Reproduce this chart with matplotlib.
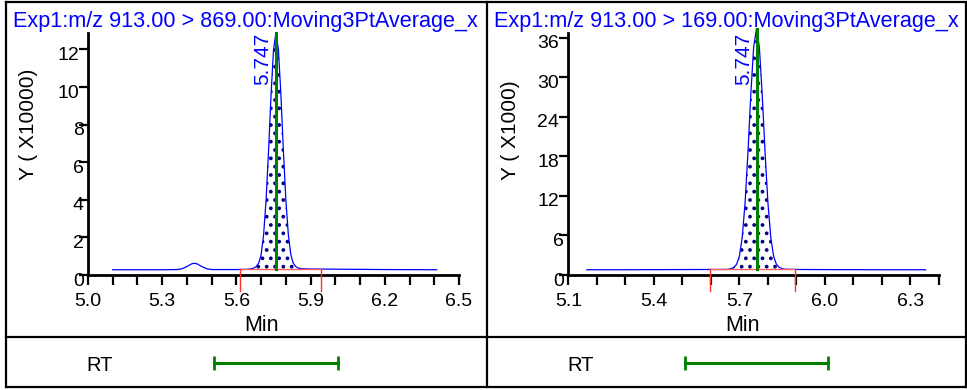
import matplotlib
matplotlib.use("Agg")
import matplotlib.pyplot as plt
import numpy as np
from matplotlib.lines import Line2D
from matplotlib.transforms import ScaledTranslation

# ---- data ----
left_title = "Exp1:m/z 913.00 > 869.00:Moving3PtAverage_x"
left_ylabel = "Y ( X10000)"
left_time = [5.10, 5.20, 5.30, 5.36, 5.38, 5.40, 5.42, 5.43, 5.44, 5.46, 5.48, 5.50,
             5.60, 5.64, 5.66, 5.67, 5.68, 5.69, 5.70, 5.71, 5.72, 5.73, 5.74, 5.75,
             5.76, 5.77, 5.78, 5.79, 5.80, 5.81, 5.82, 5.83, 5.84, 5.85, 5.86, 5.90,
             6.00, 6.20, 6.41]
left_inten = [0.28, 0.28, 0.28, 0.29, 0.33, 0.45, 0.60, 0.62, 0.60, 0.45, 0.33, 0.29,
              0.29, 0.30, 0.33, 0.37, 0.45, 0.62, 1.09, 2.14, 3.98, 6.60, 9.57, 11.97,
              12.90, 11.97, 9.57, 6.60, 3.98, 2.14, 1.09, 0.62, 0.45, 0.37, 0.34, 0.32,
              0.31, 0.29, 0.28]
left_rt_label = "5.747"
left_integration = [5.615, 5.942]
left_baseline = 0.30
left_xlim = [5.0, 6.5]
left_ylim = [0, 12.9]
left_xticks = [5.0, 5.3, 5.6, 5.9, 6.2, 6.5]
left_yticks = [0, 2, 4, 6, 8, 10, 12]

right_title = "Exp1:m/z 913.00 > 169.00:Moving3PtAverage_x"
right_ylabel = "Y ( X1000)"
right_time = [5.165, 5.30, 5.45, 5.60, 5.64, 5.66, 5.67, 5.68, 5.69, 5.70, 5.71, 5.72,
              5.73, 5.74, 5.75, 5.76, 5.77, 5.78, 5.79, 5.80, 5.81, 5.82, 5.83, 5.84,
              5.85, 5.86, 5.90, 6.00, 6.20, 6.353]
right_inten = [0.80, 0.80, 0.82, 0.84, 0.84, 0.85, 0.95, 1.15, 1.60, 2.85, 5.75, 11.0,
               18.6, 27.4, 34.6, 37.4, 34.6, 27.4, 18.6, 11.0, 5.75, 2.85, 1.60, 1.15,
               0.95, 0.88, 0.84, 0.82, 0.80, 0.80]
right_rt_label = "5.747"
right_integration = [5.596, 5.895]
right_baseline = 0.85
right_xlim = [5.1, 6.4]
right_ylim = [0, 36.8]
right_xticks = [5.1, 5.4, 5.7, 6.0, 6.3]
right_yticks = [0, 6, 12, 18, 24, 30, 36]

rt_window = [5.51, 6.01]

W, H = 967, 390
BLUE = "#0000ff"
GREEN = "#008000"
RED = "#ff3030"

plt.rcParams["font.family"] = ["Liberation Sans", "DejaVu Sans"]
plt.rcParams["hatch.linewidth"] = 1.5


def fx(px):
    return px / W


def fy(py):
    return 1 - py / H


fig = plt.figure(figsize=(W / 100, H / 100), dpi=100)


def draw_panel(x0, ax_left, ax_right, title, ylabel, time, inten, rt_label,
               integ, base, xlim, ylim, xticks, yticks):
    t = np.array(time)
    y = np.array(inten)
    ax = fig.add_axes([fx(ax_left), fy(275), fx(ax_right - ax_left), (275 - 32.5) / H])
    ax.set_xlim(xlim)
    ax.set_ylim(ylim)
    for side in ["top", "right"]:
        ax.spines[side].set_visible(False)
    for side in ["left", "bottom"]:
        ax.spines[side].set_linewidth(2)

    # integrated area (dotted) and the trace
    mask = (t >= integ[0]) & (t <= integ[1])
    ax.fill_between(t, y, base, where=mask, facecolor="white", edgecolor="#000080",
                    hatch="..", linewidth=0, zorder=1)
    ax.plot(t, y, color=BLUE, lw=0.9, zorder=3, clip_on=False)

    # apex marker
    i = int(np.argmax(y))
    ax.plot([t[i], t[i]], [base, y[i]], color=GREEN, lw=2.2, zorder=5, clip_on=False)
    ax.annotate(rt_label, xy=(t[i], ylim[1]), xytext=(-2.5, 0), textcoords="offset points",
                rotation=90, ha="right", va="top", color=BLUE, fontsize=15)

    # integration limits
    drop = -0.066 * ylim[1]
    ax.plot(integ, [base, base], color="#ff6060", lw=1, zorder=4, clip_on=False)
    for xi in integ:
        ax.plot([xi, xi], [base, drop], color=RED, lw=1, zorder=4, clip_on=False)

    ax.set_xticks(xticks, labels=[f"{v:.1f}" for v in xticks])
    ax.set_xticks(np.arange(xlim[0], xlim[1] + 0.001, 0.1), minor=True)
    ax.set_yticks(yticks, labels=[str(v) for v in yticks])
    ax.tick_params(axis="x", which="both", direction="out", length=7, width=1.6,
                   pad=6, labelsize=14)
    ax.tick_params(axis="y", direction="out", length=6.5, width=1.6, pad=0, labelsize=14)
    for lab in ax.get_yticklabels():
        dx = 5 / 100 if len(lab.get_text()) == 1 else 0
        lab.set_transform(lab.get_transform() + ScaledTranslation(dx, -4 / 100, fig.dpi_scale_trans))

    ax.set_xlabel("Min", fontsize=15.5, labelpad=0)
    ax.xaxis.set_label_coords(0.469, -0.165)
    fig.text(fx(x0 + 23), fy(180), ylabel, rotation=90, ha="center", va="bottom", fontsize=15)
    fig.text(fx(x0 + 7), fy(27), title, color=BLUE, fontsize=15.6, va="baseline", ha="left")

    # RT row below
    rt = fig.add_axes([fx(ax_left), fy(386), fx(ax_right - ax_left), 46 / H])
    rt.set_xlim(xlim)
    rt.set_ylim(-1, 1)
    rt.axis("off")
    rt.plot(rt_window, [0, 0], color=GREEN, lw=2.2, marker="|", markersize=10,
            markeredgewidth=2)
    fig.text(fx(x0 + 94), fy(363.5), "RT", ha="center", va="center_baseline", fontsize=14.5)


draw_panel(6, 88, 459, left_title, left_ylabel, left_time, left_inten, left_rt_label,
           left_integration, left_baseline, left_xlim, left_ylim, left_xticks, left_yticks)
draw_panel(487, 568.3, 939, right_title, right_ylabel, right_time, right_inten, right_rt_label,
           right_integration, right_baseline, right_xlim, right_ylim, right_xticks, right_yticks)

# panel frames
frame = [([6, 966], [1.5, 1.5]), ([6, 966], [387, 387]), ([6, 6], [1.5, 387]),
         ([966, 966], [1.5, 387]), ([487, 487], [1.5, 387]), ([6, 966], [336.5, 336.5])]
for xs, ys in frame:
    fig.add_artist(Line2D([fx(v) for v in xs], [fy(v) for v in ys], color="black",
                          lw=1.6, transform=fig.transFigure))

fig.savefig("out.png", dpi=100)
